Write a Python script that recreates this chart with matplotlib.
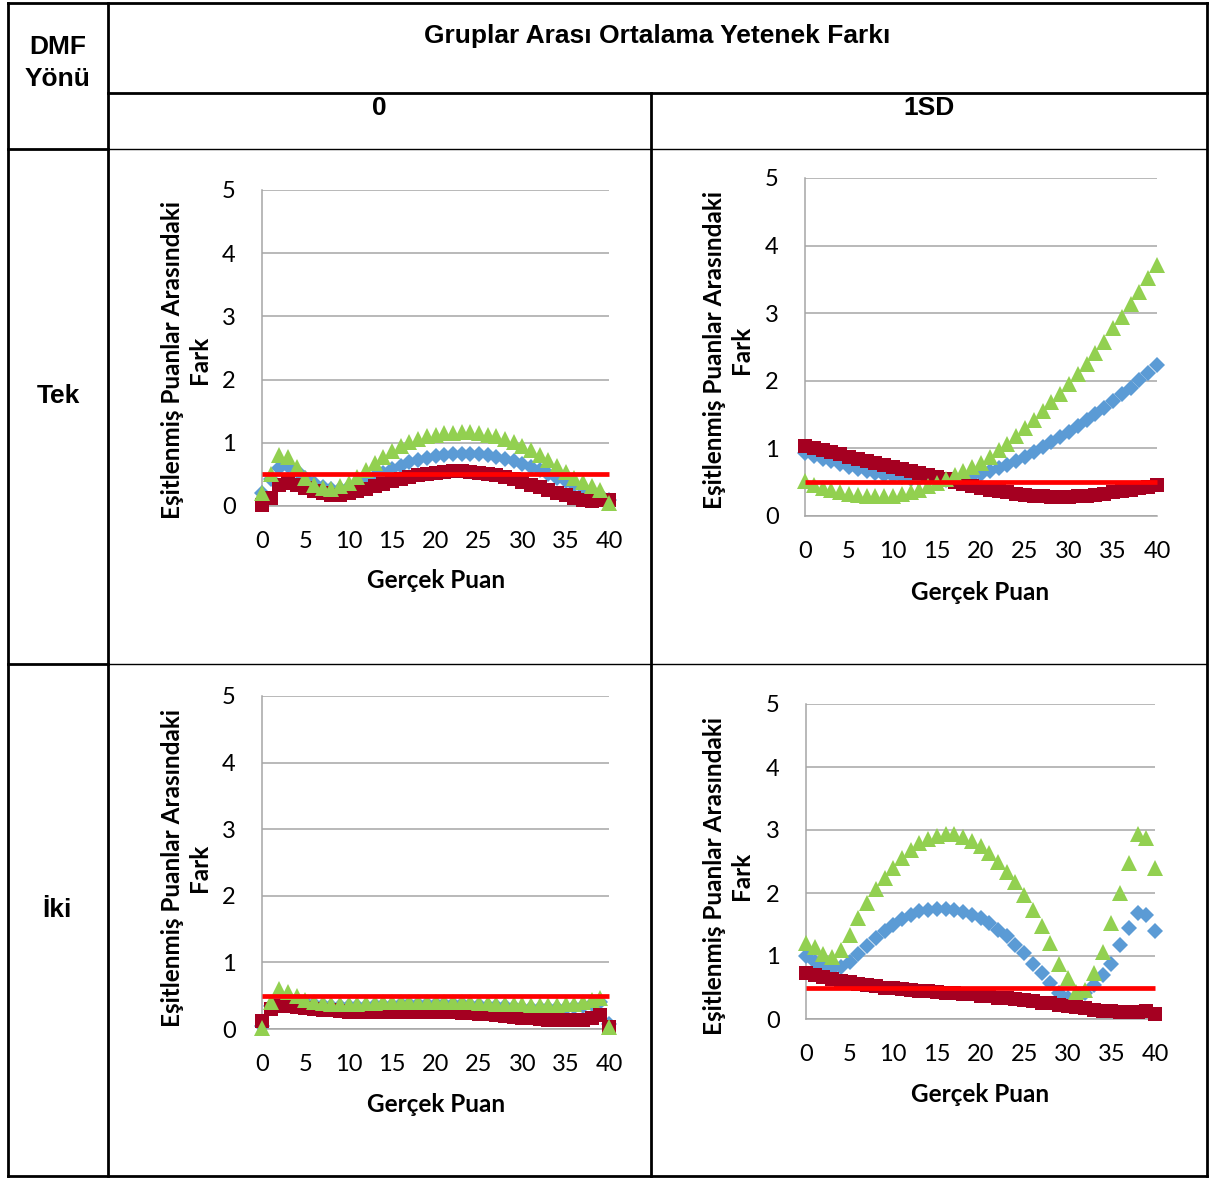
import numpy as np
import matplotlib
matplotlib.use("Agg")
import matplotlib.pyplot as plt

# ---------------------------------------------------------------
# Data (x = Gerçek Puan 0..40)
gercek_puan = list(range(41))
esik = 0.5  # red reference line

# Tek / 0
tek_0_mavi = [0.20, 0.42, 0.60, 0.63, 0.55, 0.45, 0.36, 0.30, 0.27, 0.27,
              0.30, 0.35, 0.41, 0.47, 0.53, 0.59, 0.64, 0.69, 0.73, 0.76,
              0.79, 0.81, 0.82, 0.83, 0.83, 0.82, 0.80, 0.78, 0.75, 0.71,
              0.67, 0.62, 0.57, 0.51, 0.45, 0.40, 0.34, 0.28, 0.22, 0.17, 0.10]
tek_0_yesil = [0.21, 0.50, 0.80, 0.77, 0.62, 0.45, 0.34, 0.28, 0.27, 0.31,
               0.37, 0.46, 0.57, 0.68, 0.78, 0.87, 0.95, 1.01, 1.06, 1.10,
               1.13, 1.15, 1.16, 1.17, 1.17, 1.15, 1.13, 1.10, 1.06, 1.01,
               0.95, 0.88, 0.80, 0.72, 0.63, 0.54, 0.45, 0.38, 0.32, 0.26, 0.05]
tek_0_kirmizi = [0.01, 0.13, 0.33, 0.37, 0.33, 0.28, 0.23, 0.20, 0.18, 0.18,
                 0.20, 0.23, 0.27, 0.31, 0.35, 0.39, 0.43, 0.46, 0.49, 0.51,
                 0.53, 0.54, 0.55, 0.55, 0.54, 0.53, 0.51, 0.49, 0.46, 0.42,
                 0.38, 0.34, 0.30, 0.26, 0.21, 0.17, 0.13, 0.10, 0.08, 0.09, 0.10]

# Tek / 1SD
tek_1sd_mavi = [0.93, 0.89, 0.85, 0.81, 0.77, 0.73, 0.70, 0.67, 0.64, 0.61,
                0.59, 0.57, 0.55, 0.54, 0.53, 0.53, 0.53, 0.54, 0.56, 0.59,
                0.62, 0.66, 0.71, 0.76, 0.82, 0.88, 0.95, 1.02, 1.09, 1.17,
                1.25, 1.33, 1.42, 1.51, 1.60, 1.70, 1.80, 1.90, 2.01, 2.12, 2.24]
tek_1sd_yesil = [0.52, 0.46, 0.42, 0.38, 0.35, 0.33, 0.31, 0.30, 0.29, 0.29,
                 0.30, 0.32, 0.35, 0.39, 0.44, 0.49, 0.54, 0.60, 0.66, 0.72,
                 0.78, 0.87, 0.97, 1.07, 1.18, 1.30, 1.42, 1.55, 1.68, 1.81,
                 1.95, 2.10, 2.25, 2.41, 2.58, 2.78, 2.95, 3.13, 3.32, 3.52, 3.72]
tek_1sd_kirmizi = [1.03, 1.00, 0.97, 0.94, 0.91, 0.88, 0.85, 0.82, 0.79, 0.76,
                   0.72, 0.69, 0.66, 0.63, 0.60, 0.57, 0.54, 0.51, 0.48, 0.45,
                   0.42, 0.39, 0.37, 0.35, 0.33, 0.31, 0.30, 0.29, 0.28, 0.28,
                   0.28, 0.29, 0.30, 0.31, 0.33, 0.35, 0.37, 0.39, 0.41, 0.43, 0.46]

# İki / 0
iki_0_mavi = [0.05, 0.35, 0.48, 0.47, 0.43, 0.40, 0.38, 0.36, 0.35, 0.35,
              0.35, 0.35, 0.35, 0.36, 0.36, 0.36, 0.37, 0.37, 0.37, 0.37,
              0.37, 0.37, 0.37, 0.37, 0.36, 0.36, 0.35, 0.35, 0.34, 0.33,
              0.32, 0.32, 0.31, 0.31, 0.31, 0.32, 0.33, 0.35, 0.38, 0.41, 0.08]
iki_0_yesil = [0.02, 0.40, 0.60, 0.55, 0.49, 0.44, 0.41, 0.39, 0.38, 0.38,
               0.38, 0.38, 0.39, 0.39, 0.40, 0.40, 0.40, 0.41, 0.41, 0.41,
               0.41, 0.41, 0.40, 0.40, 0.40, 0.39, 0.39, 0.38, 0.38, 0.37,
               0.37, 0.36, 0.36, 0.36, 0.36, 0.37, 0.38, 0.40, 0.43, 0.46, 0.03]
iki_0_kirmizi = [0.12, 0.30, 0.35, 0.35, 0.33, 0.31, 0.30, 0.29, 0.28, 0.27,
                 0.26, 0.26, 0.25, 0.25, 0.25, 0.25, 0.25, 0.25, 0.25, 0.25,
                 0.25, 0.25, 0.25, 0.24, 0.24, 0.23, 0.22, 0.21, 0.20, 0.18,
                 0.17, 0.16, 0.15, 0.14, 0.13, 0.13, 0.13, 0.14, 0.17, 0.21, 0.03]

# İki / 1SD
iki_1sd_mavi = [1.00, 0.91, 0.83, 0.80, 0.83, 0.91, 1.03, 1.16, 1.28, 1.39,
                1.49, 1.58, 1.65, 1.71, 1.73, 1.74, 1.74, 1.73, 1.70, 1.65,
                1.60, 1.52, 1.41, 1.31, 1.18, 1.04, 0.88, 0.73, 0.57, 0.41,
                0.33, 0.33, 0.41, 0.54, 0.70, 0.88, 1.18, 1.44, 1.68, 1.65, 1.39]
iki_1sd_yesil = [1.21, 1.15, 1.03, 0.98, 1.09, 1.34, 1.60, 1.84, 2.06, 2.24,
                 2.40, 2.55, 2.69, 2.79, 2.86, 2.91, 2.94, 2.93, 2.89, 2.82,
                 2.74, 2.64, 2.50, 2.34, 2.18, 1.97, 1.73, 1.47, 1.20, 0.88,
                 0.65, 0.43, 0.46, 0.73, 1.07, 1.53, 2.00, 2.47, 2.93, 2.87, 2.40]
iki_1sd_kirmizi = [0.73, 0.70, 0.67, 0.64, 0.61, 0.58, 0.56, 0.54, 0.52, 0.50,
                   0.49, 0.47, 0.46, 0.45, 0.44, 0.43, 0.42, 0.41, 0.40, 0.39,
                   0.37, 0.36, 0.34, 0.33, 0.31, 0.30, 0.28, 0.26, 0.25, 0.23,
                   0.21, 0.19, 0.17, 0.15, 0.13, 0.12, 0.11, 0.11, 0.11, 0.12, 0.08]

x_ticks = [0, 5, 10, 15, 20, 25, 30, 35, 40]
y_ticks = [0, 1, 2, 3, 4, 5]

baslik = "Gruplar Arası Ortalama Yetenek Farkı"
sutunlar = ["0", "1SD"]
satirlar = ["Tek", "İki"]
y_etiket = "Eşitlenmiş Puanlar Arasındaki\nFark"
x_etiket = "Gerçek Puan"

# ---------------------------------------------------------------
W, H = 1211, 1179
fig = plt.figure(figsize=(W / 100, H / 100), dpi=100)
fig.patch.set_facecolor("white")

def px_rect(x0, y0, x1, y1):
    return [x0 / W, 1 - y1 / H, (x1 - x0) / W, (y1 - y0) / H]

# overlay in pixel coordinates for the table
ov = fig.add_axes([0, 0, 1, 1], zorder=0)
ov.set_xlim(0, W)
ov.set_ylim(H, 0)
ov.axis("off")
ov.patch.set_alpha(0)

thick = 2.0
thin = 1.0
def hline(y, x0, x1, lw):
    ov.plot([x0, x1], [y, y], color="black", lw=lw, solid_capstyle="projecting")
def vline(x, y0, y1, lw):
    ov.plot([x, x], [y0, y1], color="black", lw=lw, solid_capstyle="projecting")

hline(3, 8, 1207, thick)
hline(1176, 8, 1207, thick)
vline(8, 3, 1176, thick)
vline(1207, 3, 1176, thick)
vline(108, 3, 1176, thick)
hline(93, 108, 1207, thick)
vline(651, 93, 1176, thick)
for y in (149, 664):
    hline(y, 8, 108, thick)
    hline(y, 108, 1207, thin)

hfont = dict(family="Liberation Sans", weight="bold", fontsize=19, color="black")
ov.text(58, 63, "DMF\nYönü", ha="center", va="center", linespacing=1.45, **hfont)
ov.text(657, 36, baslik, ha="center", va="center", **hfont)
ov.text(379, 108, sutunlar[0], ha="center", va="center", **hfont)
ov.text(929, 108, sutunlar[1], ha="center", va="center", **hfont)
ov.text(58, 396, satirlar[0], ha="center", va="center", **hfont)
ov.text(57, 910, satirlar[1], ha="center", va="center", **hfont)

panels = [
    # (rect px, data, ylabel center, xlabel center)
    ((262, 190, 609, 506), (tek_0_mavi, tek_0_kirmizi, tek_0_yesil), (186, 360), (436, 581)),
    ((805, 178, 1157, 516), (tek_1sd_mavi, tek_1sd_kirmizi, tek_1sd_yesil), (728, 350), (980, 592)),
    ((262, 696, 609, 1029), (iki_0_mavi, iki_0_kirmizi, iki_0_yesil), (186, 868), (436, 1104)),
    ((806, 704, 1155, 1019), (iki_1sd_mavi, iki_1sd_kirmizi, iki_1sd_yesil), (728, 876), (980, 1094)),
]

mavi_renk = "#5B9BD5"
kirmizi_renk = "#A50021"
yesil_renk = "#92D050"
grid_renk = "#A6A6A6"
tfont = "Lato"

for rect, (mavi, kirmizi, yesil), ylab, xlab in panels:
    ax = fig.add_axes(px_rect(*rect), zorder=2)
    ax.set_facecolor("none")
    ax.plot(gercek_puan, mavi, linestyle="none", marker="D", ms=7.8,
            color=mavi_renk, mew=0, clip_on=False, zorder=3)
    ax.plot(gercek_puan, kirmizi, linestyle="none", marker="s", ms=10.2,
            color=kirmizi_renk, mew=0, clip_on=False, zorder=4)
    ax.plot(gercek_puan, yesil, linestyle="none", marker="^", ms=11.5,
            color=yesil_renk, mew=0, clip_on=False, zorder=5)
    ax.plot([gercek_puan[0], gercek_puan[-1]], [esik, esik], color="#FF0000",
            lw=3.4, solid_capstyle="butt", zorder=6, clip_on=False)
    ax.set_xlim(0, 40)
    ax.set_ylim(0, 5)
    ax.set_xticks(x_ticks)
    ax.set_yticks(y_ticks)
    ax.yaxis.grid(True, color=grid_renk, lw=1.1)
    ax.set_axisbelow(True)
    for s in ("top", "right"):
        ax.spines[s].set_visible(False)
    for s in ("left", "bottom"):
        ax.spines[s].set_color(grid_renk)
        ax.spines[s].set_linewidth(1.1)
    ax.tick_params(length=0, labelsize=17, pad=18)
    ax.tick_params(axis="y", pad=19)
    for lab in ax.get_xticklabels() + ax.get_yticklabels():
        lab.set_fontfamily(tfont)
    ov.text(ylab[0], ylab[1], y_etiket, rotation=90, ha="center", va="center",
            multialignment="center", family=tfont, weight="bold", fontsize=17.5,
            linespacing=1.25)
    ov.text(xlab[0], xlab[1], x_etiket, ha="center", va="center",
            family=tfont, weight="bold", fontsize=17.5)

fig.savefig("out.png", dpi=100, facecolor="white")
